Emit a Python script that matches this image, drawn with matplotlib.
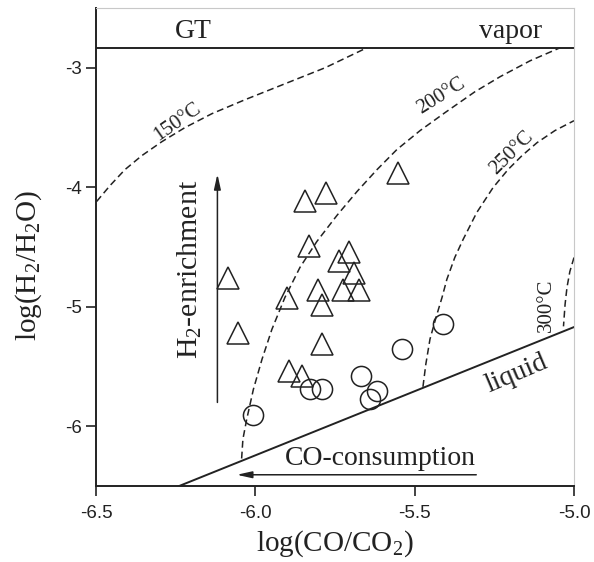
import matplotlib
matplotlib.use("Agg")
from matplotlib import pyplot as plt

# measured points
tri_x = [-6.087, -6.053, -5.843, -5.778, -5.552, -5.833, -5.705, -5.739, -5.690,
         -5.724, -5.674, -5.802, -5.792, -5.902, -5.792, -5.895, -5.853]
tri_y = [-4.763, -5.216, -4.119, -4.047, -3.877, -4.495, -4.541, -4.621, -4.715,
         -4.863, -4.860, -4.859, -4.988, -4.926, -5.314, -5.537, -5.579]
circ_x = [-6.008, -5.829, -5.792, -5.669, -5.640, -5.617, -5.541, -5.410]
circ_y = [-5.907, -5.690, -5.686, -5.579, -5.774, -5.707, -5.350, -5.147]

# isotherms
iso150_x = [-6.498, -6.456, -6.409, -6.356, -6.293, -6.221, -6.136, -6.032, -5.907, -5.781, -5.650]
iso150_y = [-4.119, -3.986, -3.852, -3.735, -3.618, -3.501, -3.384, -3.267, -3.134, -3.000, -2.833]
iso200_x = [-6.043, -6.039, -6.027, -6.006, -5.979, -5.948, -5.907, -5.860, -5.807, -5.744,
            -5.681, -5.618, -5.556, -5.483, -5.405, -5.311, -5.232, -5.138, -5.044]
iso200_y = [-6.270, -6.108, -5.941, -5.690, -5.439, -5.189, -4.921, -4.671, -4.454, -4.236,
            -4.036, -3.852, -3.685, -3.526, -3.376, -3.201, -3.075, -2.942, -2.833]
iso250_x = [-5.474, -5.465, -5.452, -5.433, -5.414, -5.399, -5.374, -5.348, -5.305, -5.254,
            -5.207, -5.163, -5.116, -5.060, -5.000]
iso250_y = [-5.670, -5.481, -5.272, -5.089, -4.921, -4.771, -4.587, -4.437, -4.211, -4.003,
            -3.852, -3.735, -3.627, -3.526, -3.443]
iso300_x = [-5.000, -5.013, -5.022, -5.028, -5.033]
iso300_y = [-4.588, -4.705, -4.838, -4.980, -5.164]

liquid_x = [-6.239, -5.000]
liquid_y = [-6.500, -5.170]
gt_y = -2.833

serif = "Liberation Serif"
sans = "Liberation Sans"
plt.rcParams["mathtext.fontset"] = "custom"
plt.rcParams["mathtext.rm"] = serif
plt.rcParams["mathtext.it"] = serif + ":italic"

fig = plt.figure(figsize=(5.94, 5.62), dpi=100)
ax = fig.add_axes([96 / 594, 1 - 486 / 562, 478 / 594, 478 / 562])
ax.set_xlim(-6.5, -5.0)
ax.set_ylim(-6.5, -2.5)

lc = "#222222"
dash = dict(color=lc, lw=1.1, dashes=(4.5, 2.6))
ax.plot(iso150_x, iso150_y, **dash)
ax.plot(iso200_x, iso200_y, **dash)
ax.plot(iso250_x, iso250_y, **dash)
ax.plot(iso300_x, iso300_y, **dash)
ax.plot(liquid_x, liquid_y, color=lc, lw=1.4)
ax.axhline(gt_y, color=lc, lw=1.4)

ax.plot(tri_x, tri_y, ls="none", marker="^", ms=16.5, mfc="none", mec=lc, mew=1.1)
ax.plot(circ_x, circ_y, ls="none", marker="o", ms=14.5, mfc="none", mec=lc, mew=1.1)

# arrows
ax.annotate("", xy=(-6.119, -3.866), xytext=(-6.119, -5.824),
            arrowprops=dict(arrowstyle="-|>,head_length=0.9,head_width=0.2", color=lc, lw=1.1))
ax.annotate("", xy=(-6.067, -6.406), xytext=(-5.298, -6.406),
            arrowprops=dict(arrowstyle="-|>,head_length=0.9,head_width=0.2", color=lc, lw=1.1))

tk = dict(family=serif, color=lc, ha="center", va="center", rotation_mode="anchor")
ax.text(-6.205, -4.69, r"H$_2$-enrichment", fontsize=21.5, rotation=90, **tk)
ax.text(-5.609, -6.267, "CO-consumption", fontsize=20, **tk)
ax.text(-6.194, -2.70, "GT", fontsize=20, **tk)
ax.text(-5.198, -2.70, "vapor", fontsize=20, **tk)
ax.text(-6.244, -3.45, "150°C", fontsize=15, rotation=35, **tk)
ax.text(-5.415, -3.24, "200°C", fontsize=15, rotation=32, **tk)
ax.text(-5.195, -3.71, "250°C", fontsize=15, rotation=45, **tk)
ax.text(-5.086, -4.99, "300°C", fontsize=15, rotation=90, **tk)
ax.text(-5.180, -5.565, "liquid", fontsize=20, rotation=23, **tk)

ax.set_xticks([-6.5, -6.0, -5.5, -5.0])
ax.set_xticklabels(["-6.5", "-6.0", "-5.5", "-5.0"])
ax.set_yticks([-6, -5, -4, -3])
ax.set_yticklabels(["-6", "-5", "-4", "-3"])
ax.tick_params(direction="out", length=7, width=1.2, color=lc, labelsize=13.5, labelcolor=lc)
ax.tick_params(axis="x", pad=7)
ax.tick_params(axis="y", pad=3)
for lab in ax.get_xticklabels() + ax.get_yticklabels():
    lab.set_family(sans)

ax.set_xlabel(r"log(CO/CO$_2$)", family=serif, fontsize=21, color=lc, labelpad=4)
ax.set_ylabel(r"log(H$_2$/H$_2$O)", family=serif, fontsize=21, color=lc)
ax.yaxis.set_label_coords(-0.109, 0.462)

for side in ["left", "bottom"]:
    ax.spines[side].set_color(lc)
    ax.spines[side].set_linewidth(1.4)
for side in ["top", "right"]:
    ax.spines[side].set_color("#c8c8c8")
    ax.spines[side].set_linewidth(0.8)

fig.savefig("out.png", dpi=100)
